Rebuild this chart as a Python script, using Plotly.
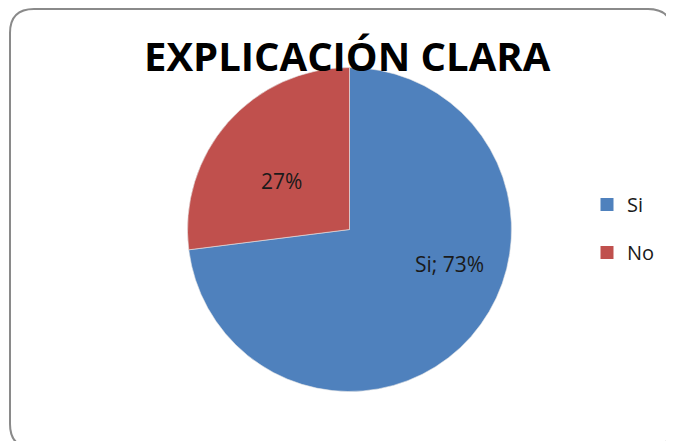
import plotly.graph_objects as go

# The page places the figure 8 px from the top-left corner (default body margin),
# so layout positions below are reference pixels minus 8.
W, H = 666, 433
OFF = 8

title_text = "EXPLICACIÓN CLARA"
categories = ["Si", "No"]
values = [73, 27]
colors = ["#4F81BD", "#C0504D"]
label_texts = ["Si; 73%", "27%"]

def px(x):
    return (x - OFF) / W

def py(y):
    return 1 - (y - OFF) / H

fig = go.Figure()

# pie
cx, cy, r = 349.5, 229.5, 162
fig.add_trace(go.Pie(
    labels=categories,
    values=values,
    sort=False,
    direction="clockwise",
    rotation=0,
    marker=dict(colors=colors, line=dict(color="#e6e6e6", width=0.6)),
    textinfo="none",
    hoverinfo="label+percent",
    showlegend=False,
    domain=dict(x=[px(cx - r), px(cx + r)], y=[py(cy + r), py(cy - r)]),
))

# legend entries (library legend, via empty marker traces)
for cat, col in zip(categories, colors):
    fig.add_trace(go.Scatter(
        x=[None], y=[None], mode="markers", name=cat,
        marker=dict(symbol="square", size=13, color=col),
        legendgroup=cat, showlegend=True,
    ))

# slice labels
label_pos = [(449, 264), (281, 181)]
annotations = []
for txt, (lx, ly) in zip(label_texts, label_pos):
    annotations.append(dict(
        x=px(lx), y=py(ly), xref="paper", yref="paper", text=txt,
        showarrow=False, xanchor="center", yanchor="middle",
        font=dict(family="Open Sans", size=21, color="#1a1a1a"),
    ))

# title
annotations.append(dict(
    x=px(347.5), y=py(56), xref="paper", yref="paper", text="<b>" + title_text + "</b>",
    showarrow=False, xanchor="center", yanchor="middle",
    font=dict(family="Open Sans", size=40, color="#000000"),
))

# rounded chart frame
x0, y0, x1, y1, rr = px(10), py(9), px(672), py(448), 24
rx, ry = rr / W, rr / H
path = (
    f"M {x0+rx},{y0} L {x1-rx},{y0} Q {x1},{y0} {x1},{y0-ry} "
    f"L {x1},{y1+ry} Q {x1},{y1} {x1-rx},{y1} "
    f"L {x0+rx},{y1} Q {x0},{y1} {x0},{y1+ry} "
    f"L {x0},{y0-ry} Q {x0},{y0} {x0+rx},{y0} Z"
)

fig.update_layout(
    width=W, height=H,
    margin=dict(l=0, r=0, t=0, b=0),
    paper_bgcolor="white", plot_bgcolor="white",
    xaxis=dict(visible=False), yaxis=dict(visible=False),
    showlegend=True,
    legend=dict(
        x=px(587), y=py(185), xanchor="left", yanchor="top",
        font=dict(family="Open Sans", size=20, color="#1a1a1a"),
        tracegroupgap=19, bgcolor="rgba(0,0,0,0)", itemsizing="trace",
    ),
    annotations=annotations,
    shapes=[dict(type="path", path=path, xref="paper", yref="paper",
                 line=dict(color="#8a8a8a", width=2), layer="below")],
)

fig.write_html("out.html")
